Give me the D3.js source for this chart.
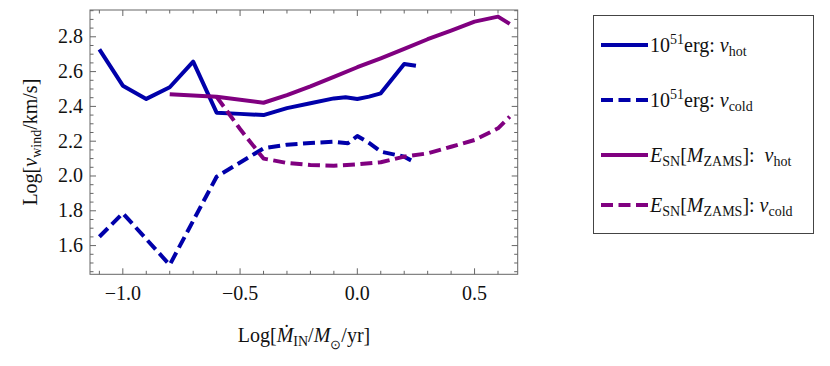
<!DOCTYPE html>
<html>
<head>
<meta charset="utf-8">
<script src="https://cdn.jsdelivr.net/npm/d3@7"></script>
<style>
  body { margin: 0; background: #fff; }
  text { font-family: "Liberation Serif", "Times New Roman", serif; fill: #111; }
</style>
</head>
<body>
<svg width="830" height="366"></svg>
<script>
// data
var hotX = [-1.1, -1.0, -0.9, -0.8, -0.7, -0.6, -0.5, -0.4, -0.3, -0.2, -0.1, -0.05, 0.0, 0.05, 0.1, 0.2, 0.25];
var hotY = [2.728, 2.519, 2.443, 2.51, 2.657, 2.364, 2.357, 2.35, 2.39, 2.418, 2.446, 2.452, 2.443, 2.456, 2.475, 2.644, 2.634];

var coldX = [-1.1, -1.0, -0.8, -0.6, -0.4, -0.3, -0.2, -0.1, -0.04, 0.0, 0.05, 0.1, 0.2, 0.25];
var coldY = [1.651, 1.786, 1.489, 1.996, 2.159, 2.18, 2.19, 2.197, 2.188, 2.23, 2.19, 2.14, 2.111, 2.075];

var snHotX = [-0.8, -0.6, -0.4, -0.3, -0.2, -0.1, 0.0, 0.1, 0.2, 0.3, 0.4, 0.5, 0.6, 0.65];
var snHotY = [2.47, 2.456, 2.421, 2.465, 2.515, 2.57, 2.625, 2.676, 2.73, 2.786, 2.835, 2.887, 2.916, 2.874];

var snColdX = [-0.6, -0.5, -0.4, -0.3, -0.2, -0.1, 0.0, 0.1, 0.2, 0.3, 0.4, 0.5, 0.6, 0.65];
var snColdY = [2.455, 2.27, 2.10, 2.075, 2.063, 2.059, 2.067, 2.079, 2.111, 2.13, 2.168, 2.207, 2.274, 2.341];

var xTicks = [-1.0, -0.5, 0.0, 0.5];
var yTicks = [1.6, 1.8, 2.0, 2.2, 2.4, 2.6, 2.8];

var blue = "#0000aa", purple = "#800080";

var svg = d3.select("svg");
var pLeft = 90, pRight = 517.7, pTop = 10, pBottom = 274.3;

var x = d3.scaleLinear().domain([-1.14, 0.684]).range([pLeft, pRight]);
var y = d3.scaleLinear().domain([1.435, 2.954]).range([pBottom, pTop]);

// frame
svg.append("rect")
  .attr("x", pLeft).attr("y", pTop)
  .attr("width", pRight - pLeft).attr("height", pBottom - pTop)
  .attr("fill", "none").attr("stroke", "#666").attr("stroke-width", 1);

// ticks (inside, all four sides)
var xMinor = d3.range(-11, 7).map(function (d) { return d / 10; });
var yMinor = d3.range(29, 60).map(function (d) { return d / 20; });

function isMajor(v, list) {
  return list.some(function (t) { return Math.abs(t - v) < 1e-6; });
}

var tk = svg.append("g").attr("stroke", "#666").attr("stroke-width", 1);
xMinor.forEach(function (v) {
  var len = isMajor(v, xTicks) ? 6 : 3.5;
  var px = x(v);
  tk.append("line").attr("x1", px).attr("x2", px).attr("y1", pBottom).attr("y2", pBottom - len);
  tk.append("line").attr("x1", px).attr("x2", px).attr("y1", pTop).attr("y2", pTop + len);
});
yMinor.forEach(function (v) {
  var len = isMajor(v, yTicks) ? 6 : 3.5;
  var py = y(v);
  tk.append("line").attr("y1", py).attr("y2", py).attr("x1", pLeft).attr("x2", pLeft + len);
  tk.append("line").attr("y1", py).attr("y2", py).attr("x1", pRight).attr("x2", pRight - len);
});

// tick labels
svg.append("g").selectAll("text").data(xTicks).enter().append("text")
  .attr("x", function (d) { return x(d); })
  .attr("y", 300)
  .attr("text-anchor", "middle")
  .style("font-size", "20px")
  .text(function (d) { return d < 0 ? "\u2212" + d3.format(".1f")(-d) : d3.format(".1f")(d); });

svg.append("g").selectAll("text").data(yTicks).enter().append("text")
  .attr("x", 83)
  .attr("y", function (d) { return y(d) + 6.5; })
  .attr("text-anchor", "end")
  .style("font-size", "20px")
  .text(function (d) { return d3.format(".1f")(d); });

// series
var line = d3.line()
  .x(function (d) { return x(d[0]); })
  .y(function (d) { return y(d[1]); });

function draw(xs, ys, color, dashed) {
  svg.append("path")
    .datum(d3.zip(xs, ys))
    .attr("d", line)
    .attr("fill", "none")
    .attr("stroke", color)
    .attr("stroke-width", 4)
    .attr("stroke-linejoin", "round")
    .attr("stroke-dasharray", dashed ? "12,5.5" : null);
}

draw(hotX, hotY, blue, false);
draw(coldX, coldY, blue, true);
draw(snHotX, snHotY, purple, false);
draw(snColdX, snColdY, purple, true);

// axis labels
var yl = svg.append("text")
  .attr("transform", "translate(37," + ((pTop + pBottom) / 2) + ") rotate(-90)")
  .attr("text-anchor", "middle")
  .style("font-size", "20px");
yl.append("tspan").text("Log[");
yl.append("tspan").style("font-style", "italic").text("v");
yl.append("tspan").attr("dy", 4).style("font-size", "14px").text("wind");
yl.append("tspan").attr("dy", -4).text("/km/s]");

var xl = svg.append("text")
  .attr("x", 304).attr("y", 342)
  .attr("text-anchor", "middle")
  .style("font-size", "20px");
xl.append("tspan").text("Log[");
xl.append("tspan").style("font-style", "italic").text("\u1E40");
xl.append("tspan").attr("dy", 4).style("font-size", "14px").text("IN");
xl.append("tspan").attr("dy", -4).text("/");
xl.append("tspan").style("font-style", "italic").text("M");
xl.append("tspan").attr("dy", 7).style("font-size", "13px").text("\u2299");
xl.append("tspan").attr("dy", -7).text("/yr]");

// legend
svg.append("rect")
  .attr("x", 593.5).attr("y", 15.5)
  .attr("width", 220).attr("height", 218)
  .attr("fill", "#fff").attr("stroke", "#444").attr("stroke-width", 1);

var legendItems = [
  { color: blue, dashed: false, kind: "erg", sub: "hot", ly: 45 },
  { color: blue, dashed: true, kind: "erg", sub: "cold", ly: 100 },
  { color: purple, dashed: false, kind: "sn", sub: "hot", ly: 155 },
  { color: purple, dashed: true, kind: "sn", sub: "cold", ly: 205 }
];

legendItems.forEach(function (d) {
  svg.append("line")
    .attr("x1", 601).attr("x2", 648)
    .attr("y1", d.ly).attr("y2", d.ly)
    .attr("stroke", d.color).attr("stroke-width", 4)
    .attr("stroke-dasharray", d.dashed ? "12,5.5" : null);

  var t = svg.append("text")
    .attr("x", 650).attr("y", d.ly + 7)
    .style("font-size", "20px");
  if (d.kind === "erg") {
    t.append("tspan").text("10");
    t.append("tspan").attr("dy", -8).style("font-size", "14px").text("51");
    t.append("tspan").attr("dy", 8).text("erg: ");
  } else {
    t.append("tspan").style("font-style", "italic").text("E");
    t.append("tspan").attr("dy", 4).style("font-size", "14px").text("SN");
    t.append("tspan").attr("dy", -4).text("[");
    t.append("tspan").style("font-style", "italic").text("M");
    t.append("tspan").attr("dy", 4).style("font-size", "14px").text("ZAMS");
    t.append("tspan").attr("dy", -4).text(d.sub === "hot" ? "]:\u00A0 " : "]: ");
  }
  t.append("tspan").style("font-style", "italic").text("v");
  t.append("tspan").attr("dy", 4).style("font-size", "14px").text(d.sub);
});
</script>
</body>
</html>
